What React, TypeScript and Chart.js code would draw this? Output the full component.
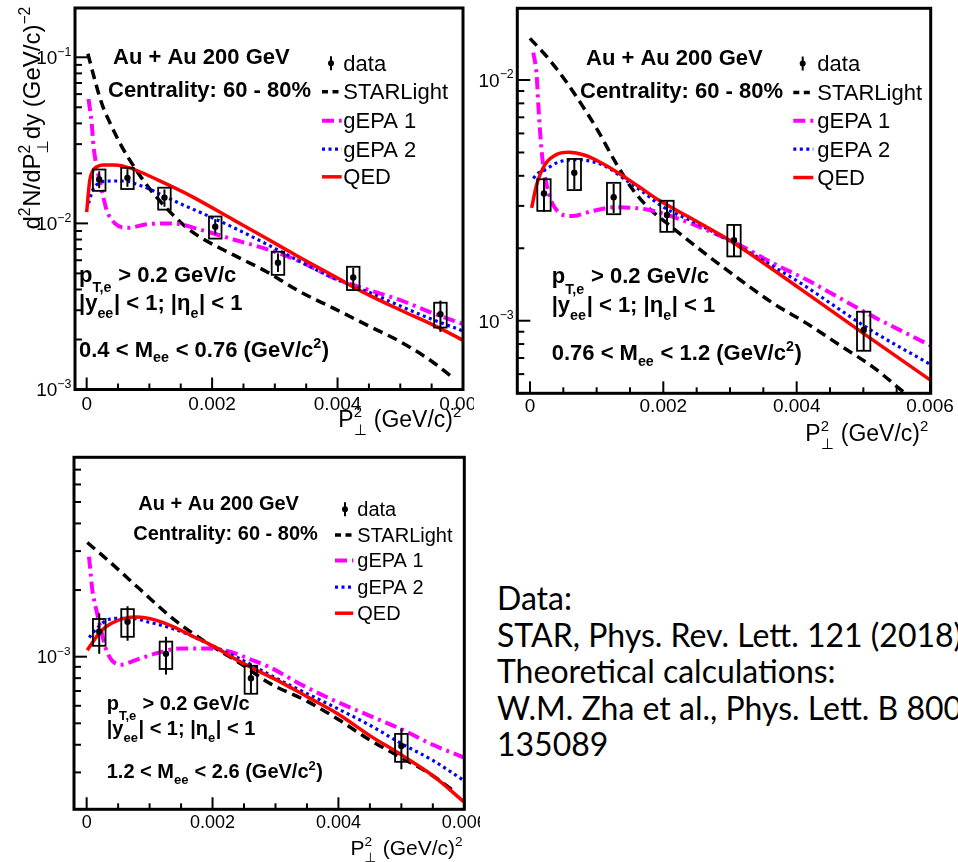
import React, { useEffect, useRef } from "react";
import { Chart, registerables } from "chart.js";
Chart.register(...registerables);

// ===================== DATA =====================
// Panel 1: 0.4 < Mee < 0.76
const p1StarX = [0.00002, 0.00013, 0.00024, 0.0004, 0.00056, 0.00077, 0.00098, 0.00125, 0.00157, 0.0018, 0.00234, 0.00287, 0.0034, 0.00394, 0.00447, 0.005, 0.0055, 0.00585];
const p1StarY = [0.105, 0.073, 0.0528, 0.0382, 0.029, 0.0215, 0.0166, 0.0126, 0.0096, 0.0083, 0.00646, 0.00512, 0.00388, 0.00308, 0.00244, 0.00194, 0.00148, 0.00117];
const p1Gepa1X = [0.00003, 0.00008, 0.00011, 0.00016, 0.00024, 0.00032, 0.00045, 0.00066, 0.00098, 0.00136, 0.0018, 0.00234, 0.00287, 0.0034, 0.00394, 0.00447, 0.005, 0.00553, 0.006];
const p1Gepa1Y = [0.056, 0.04, 0.029, 0.0219, 0.0159, 0.012, 0.01, 0.0094, 0.0099, 0.01, 0.0092, 0.008, 0.007, 0.0059, 0.0047, 0.004, 0.00345, 0.00287, 0.00248];
const p1Gepa2X = [0.00003, 0.0001, 0.0002, 0.0004, 0.0006, 0.0008, 0.001, 0.0012, 0.0015, 0.0018, 0.0023, 0.0029, 0.0034, 0.0039, 0.0045, 0.005, 0.0055, 0.006];
const p1Gepa2Y = [0.0132, 0.016, 0.0175, 0.018, 0.018, 0.0172, 0.0161, 0.0148, 0.0131, 0.0117, 0.0096, 0.0074, 0.0059, 0.00475, 0.00385, 0.00318, 0.00265, 0.00225];
const p1QedX = [0, 0.00005, 0.0001, 0.00015, 0.00025, 0.00045, 0.0007, 0.00114, 0.00168, 0.00234, 0.00287, 0.0034, 0.00394, 0.00447, 0.005, 0.00553, 0.006];
const p1QedY = [0.0117, 0.0182, 0.0208, 0.0218, 0.0225, 0.0225, 0.0215, 0.0182, 0.0145, 0.0105, 0.0081, 0.00624, 0.00482, 0.00375, 0.00301, 0.00244, 0.00198];
const p1DataX = [0.0002, 0.00065, 0.00124, 0.00205, 0.00305, 0.00425, 0.00564];
const p1DataY = [0.0184, 0.0188, 0.0143, 0.00955, 0.0058, 0.00473, 0.00284];
const p1SysLo = [0.0157, 0.0161, 0.0121, 0.0081, 0.0049, 0.00397, 0.00236];
const p1SysHi = [0.0211, 0.0216, 0.0164, 0.011, 0.00675, 0.00548, 0.00333];
const p1StatLo = [0.0163, 0.0166, 0.0126, 0.0086, 0.0051, 0.004, 0.00222];
const p1StatHi = [0.0206, 0.0212, 0.016, 0.0106, 0.0066, 0.0054, 0.00343];

// Panel 2: 0.76 < Mee < 1.2
const p2StarX = [0, 0.000275, 0.000525, 0.000775, 0.001025, 0.001275, 0.001525, 0.00175, 0.00215, 0.00265, 0.00315, 0.00365, 0.00415, 0.00465, 0.00515, 0.00555, 0.006];
const p2StarY = [0.0149, 0.0123, 0.01, 0.0079, 0.00612, 0.00459, 0.00356, 0.003, 0.00242, 0.00188, 0.00148, 0.00118, 0.000975, 0.00079, 0.00064, 0.00052, 0.00041];
const p2Gepa1X = [0.00005, 0.0001, 0.000125, 0.000175, 0.00025, 0.000375, 0.000625, 0.000925, 0.00128, 0.00175, 0.00215, 0.00265, 0.00315, 0.00365, 0.00415, 0.00465, 0.00515, 0.00585, 0.006];
const p2Gepa1Y = [0.013, 0.0105, 0.0079, 0.00506, 0.00367, 0.00294, 0.00272, 0.00285, 0.00296, 0.0029, 0.0027, 0.00238, 0.00206, 0.00173, 0.00148, 0.00124, 0.00104, 0.00083, 0.00079];
const p2Gepa2X = [0.00005, 0.00012, 0.00023, 0.00043, 0.00068, 0.00093, 0.00118, 0.00143, 0.00168, 0.00198, 0.00255, 0.00305, 0.00365, 0.00415, 0.00465, 0.00515, 0.006];
const p2Gepa2Y = [0.0039, 0.0041, 0.00425, 0.00456, 0.00467, 0.00459, 0.00431, 0.00385, 0.00345, 0.00299, 0.0025, 0.0021, 0.00168, 0.00138, 0.00111, 0.0009, 0.00066];
const p2QedX = [0.000025, 0.0001, 0.000225, 0.000425, 0.000575, 0.000825, 0.001075, 0.001325, 0.001625, 0.001925, 0.00255, 0.00305, 0.00405, 0.005, 0.006];
const p2QedY = [0.00294, 0.00367, 0.00445, 0.00494, 0.00501, 0.00487, 0.00452, 0.00411, 0.00362, 0.00318, 0.00254, 0.00211, 0.00136, 0.000886, 0.000568];
const p2DataX = [0.00021, 0.000665, 0.001255, 0.002055, 0.00306, 0.005005];
const p2DataY = [0.00338, 0.00412, 0.00326, 0.00275, 0.00216, 0.000915];
const p2SysLo = [0.00286, 0.00349, 0.00277, 0.00234, 0.00185, 0.00075];
const p2SysHi = [0.00387, 0.0047, 0.00374, 0.00315, 0.0025, 0.00109];
const p2StatLo = [0.00283, 0.00352, 0.0028, 0.00236, 0.00185, 0.00075];
const p2StatHi = [0.0039, 0.00468, 0.0037, 0.00317, 0.0025, 0.00109];

// Panel 3: 1.2 < Mee < 2.6
const p3StarX = [0.00001, 0.00033, 0.00086, 0.00139, 0.00192, 0.00245, 0.0029, 0.0035, 0.004, 0.0045, 0.005, 0.0055, 0.00585];
const p3StarY = [0.00328, 0.00274, 0.002, 0.00147, 0.00115, 0.00093, 0.00076, 0.00063, 0.00052, 0.00042, 0.00035, 0.00029, 0.000245];
const p3Gepa1X = [0.000037, 0.000064, 0.00009, 0.000143, 0.00022, 0.00033, 0.00054, 0.0008, 0.00113, 0.0015, 0.00192, 0.00229, 0.00261, 0.00293, 0.0034, 0.0039, 0.0045, 0.005, 0.0055, 0.006];
const p3Gepa1Y = [0.00283, 0.00238, 0.002, 0.00168, 0.00135, 0.00104, 0.00092, 0.00097, 0.00104, 0.00109, 0.00109, 0.00105, 0.00097, 0.00089, 0.00075, 0.00064, 0.00054, 0.00047, 0.0004, 0.00035];
const p3Gepa2X = [0.00004, 0.00015, 0.0003, 0.00045, 0.0007, 0.001, 0.0014, 0.0017, 0.002, 0.0024, 0.0028, 0.0032, 0.0036, 0.004, 0.0045, 0.005, 0.0055, 0.006];
const p3Gepa2Y = [0.00122, 0.00133, 0.00145, 0.00149, 0.00149, 0.00143, 0.00133, 0.00123, 0.00112, 0.00099, 0.00086, 0.00075, 0.00066, 0.00058, 0.00049, 0.000405, 0.00034, 0.000275];
const p3QedX = [0.00001, 0.00012, 0.00022, 0.00038, 0.0006, 0.0008, 0.00107, 0.00139, 0.0017, 0.00203, 0.00235, 0.00266, 0.003, 0.0035, 0.004, 0.0045, 0.005, 0.0055, 0.006];
const p3QedY = [0.00107, 0.00119, 0.0013, 0.00141, 0.00149, 0.00151, 0.00147, 0.00136, 0.00123, 0.00111, 0.00098, 0.00088, 0.00079, 0.00066, 0.00055, 0.00044, 0.00036, 0.00029, 0.00022];
const p3DataX = [0.0002, 0.00065, 0.00126, 0.00261, 0.005];
const p3DataY = [0.0013, 0.00144, 0.00103, 0.0008, 0.000395];
const p3SysLo = [0.00112, 0.00123, 0.00088, 0.00068, 0.000335];
const p3SysHi = [0.00148, 0.00164, 0.00117, 0.00091, 0.000448];
const p3StatLo = [0.00103, 0.00118, 0.00083, 0.00068, 0.00031];
const p3StatHi = [0.00157, 0.00169, 0.00123, 0.00093, 0.000475];

const SYS_HALF_WIDTH = 0.0001;

// Axis ticks
const X_TICKS = [0, 0.002, 0.004, 0.006];
const X_TICK_LABELS = ["0", "0.002", "0.004", "0.006"];
const X_MINOR_STEP = 0.0005;
const P1_Y_LABEL_DECADES = [-3, -2, -1];
const P2_Y_LABEL_DECADES = [-3, -2];
const P3_Y_LABEL_DECADES = [-3];

// Texts
const LEGEND_LABELS = ["data", "STARLight", "gEPA 1", "gEPA 2", "QED"];
const COLLISION = "Au + Au 200 GeV";
const CENTRALITY = "Centrality: 60 - 80%";
const MASS_RANGES = [["0.4", "0.76"], ["0.76", "1.2"], ["1.2", "2.6"]];
const CITATION = [
  "Data:",
  "STAR, Phys. Rev. Lett. 121 (2018)",
  "Theoretical calculations:",
  "W.M. Zha et al., Phys. Lett. B 800 (2020)",
  "135089",
];

// ===================== STYLE =====================
const FAM = '"Liberation Sans", Arial, Helvetica, "DejaVu Sans", sans-serif';
const fnt = (size: number, bold: boolean) => `${bold ? "bold " : ""}${size}px ${FAM}`;
const SUBSCALE = 0.65;

const STYLES = {
  star: { color: "#000000", width: 3.5, dash: [10, 6], legDash: [6, 4.5] },
  gepa1: { color: "#ff00ff", width: 4, dash: [12, 5, 3, 5], legDash: [12, 5, 3, 5] },
  gepa2: { color: "#0000ff", width: 3.2, dash: [3, 3.5], legDash: [3, 3.5] },
  qed: { color: "#ff0000", width: 3.5, dash: [] as number[], legDash: [] as number[] },
};

type Seg = { t: string; k?: "sup" | "sub" | "ss"; t2?: string; dy?: number };

function segW(ctx: CanvasRenderingContext2D, s: Seg, size: number, bold: boolean) {
  if (!s.k) {
    ctx.font = fnt(size, bold);
    return ctx.measureText(s.t).width;
  }
  ctx.font = fnt(size * SUBSCALE, bold);
  const w1 = ctx.measureText(s.t).width;
  const w2 = s.t2 ? ctx.measureText(s.t2).width : 0;
  return Math.max(w1, w2) + size * 0.03;
}

function drawRich(ctx: CanvasRenderingContext2D, segs: Seg[], x: number, y: number, size: number, bold: boolean, align: "left" | "right" | "center") {
  let total = 0;
  for (const s of segs) total += segW(ctx, s, size, bold);
  let cx = align === "right" ? x - total : align === "center" ? x - total / 2 : x;
  ctx.textAlign = "left";
  ctx.textBaseline = "alphabetic";
  ctx.fillStyle = "#000";
  for (const s of segs) {
    const w = segW(ctx, s, size, bold);
    if (!s.k) {
      ctx.font = fnt(size, bold);
      ctx.fillText(s.t, cx, y);
    } else {
      ctx.font = fnt(size * SUBSCALE, bold);
      if (s.k === "sup") ctx.fillText(s.t, cx, y - size * (s.dy ?? 0.42));
      else if (s.k === "sub") ctx.fillText(s.t, cx, y + size * (s.dy ?? 0.34));
      else {
        ctx.fillText(s.t, cx, y - size * 0.42);
        ctx.fillText(s.t2 || "", cx, y + size * 0.34);
      }
    }
    cx += w;
  }
}

// ===================== PANELS =====================
type PanelDef = {
  key: string;
  box: { left: number; top: number; w: number; h: number };
  area: { l: number; t: number; r: number; b: number };
  xMin: number; xMax: number; yMin: number; yMax: number;
  yLabelDecades: number[];
  curves: { star: number[][]; gepa1: number[][]; gepa2: number[][]; qed: number[][] };
  data: { x: number[]; y: number[]; sysLo: number[]; sysHi: number[]; statLo: number[]; statHi: number[] };
  mass: string[];
  fs: { ann: number; leg: number; tick: number; title: number };
  collision: number[]; centrality: number[];
  cutsX: number; cutsBase: number[];
  legend: { symL: number; symR: number; textX: number; markX: number; base: number[] };
  xTitle: number[]; xLabelBase: number;
  yTitle: number[] | null;
};

const PANELS: PanelDef[] = [
  {
    key: "p1",
    box: { left: 0, top: 0, w: 474, h: 450 },
    area: { l: 75, t: 8, r: 463, b: 389.5 },
    xMin: -0.000186, xMax: 0.006, yMin: 0.001, yMax: 0.198,
    yLabelDecades: P1_Y_LABEL_DECADES,
    curves: { star: [p1StarX, p1StarY], gepa1: [p1Gepa1X, p1Gepa1Y], gepa2: [p1Gepa2X, p1Gepa2Y], qed: [p1QedX, p1QedY] },
    data: { x: p1DataX, y: p1DataY, sysLo: p1SysLo, sysHi: p1SysHi, statLo: p1StatLo, statHi: p1StatHi },
    mass: MASS_RANGES[0],
    fs: { ann: 22, leg: 22, tick: 19, title: 23 },
    collision: [113, 64], centrality: [108, 96.7],
    cutsX: 79, cutsBase: [281.7, 310, 356.7],
    legend: { symL: 322, symR: 341.7, textX: 343.3, markX: 331, base: [70.7, 99.3, 128.3, 156.7, 184.3] },
    xTitle: [462, 427], xLabelBase: 410,
    yTitle: [40, 6],
  },
  {
    key: "p2",
    box: { left: 476, top: 0, w: 482, h: 450 },
    area: { l: 41.3, t: 8.3, r: 454.7, b: 393.3 },
    xMin: -0.00019, xMax: 0.00601, yMin: 0.0004994, yMax: 0.01986,
    yLabelDecades: P2_Y_LABEL_DECADES,
    curves: { star: [p2StarX, p2StarY], gepa1: [p2Gepa1X, p2Gepa1Y], gepa2: [p2Gepa2X, p2Gepa2Y], qed: [p2QedX, p2QedY] },
    data: { x: p2DataX, y: p2DataY, sysLo: p2SysLo, sysHi: p2SysHi, statLo: p2StatLo, statHi: p2StatHi },
    mass: MASS_RANGES[1],
    fs: { ann: 22, leg: 22, tick: 19, title: 23 },
    collision: [110, 65], centrality: [104, 98.3],
    cutsX: 75.7, cutsBase: [283.3, 311.7, 360],
    legend: { symL: 317.3, symR: 337.3, textX: 341.3, markX: 326.7, base: [71, 100, 128.3, 156.7, 185] },
    xTitle: [453, 441], xLabelBase: 411.7,
    yTitle: null,
  },
  {
    key: "p3",
    box: { left: 0, top: 450, w: 480, h: 412 },
    area: { l: 74, t: 7.3, r: 464.3, b: 359.3 },
    xMin: -0.000201, xMax: 0.006, yMin: 0.0002044, yMax: 0.00796,
    yLabelDecades: P3_Y_LABEL_DECADES,
    curves: { star: [p3StarX, p3StarY], gepa1: [p3Gepa1X, p3Gepa1Y], gepa2: [p3Gepa2X, p3Gepa2Y], qed: [p3QedX, p3QedY] },
    data: { x: p3DataX, y: p3DataY, sysLo: p3SysLo, sysHi: p3SysHi, statLo: p3StatLo, statHi: p3StatHi },
    mass: MASS_RANGES[2],
    fs: { ann: 20, leg: 20, tick: 18, title: 21 },
    collision: [138.3, 60], centrality: [133.3, 90],
    cutsX: 106.7, cutsBase: [260, 285, 328.3],
    legend: { symL: 335, symR: 353.3, textX: 357.3, markX: 345, base: [66, 91.7, 117.3, 144, 170] },
    xTitle: [463.3, 405], xLabelBase: 378.3,
    yTitle: null,
  },
];

function curveDs(label: string, xy: number[][], st: { color: string; width: number; dash: number[] }, order: number) {
  const [xs, ys] = xy;
  return {
    label,
    data: xs.map((x, i) => ({ x, y: ys[i] })),
    showLine: true,
    borderColor: st.color,
    backgroundColor: st.color,
    borderWidth: st.width,
    borderDash: st.dash,
    pointRadius: 0,
    pointHoverRadius: 0,
    cubicInterpolationMode: "monotone" as const,
    fill: false,
    clip: 0,
    order,
  };
}

function line(ctx: CanvasRenderingContext2D, x1: number, y1: number, x2: number, y2: number) {
  ctx.beginPath();
  ctx.moveTo(x1, y1);
  ctx.lineTo(x2, y2);
  ctx.stroke();
}

function makePlugin(p: PanelDef) {
  return {
    id: "rootStyle_" + p.key,
    afterDatasetsDraw(chart: any) {
      const ctx: CanvasRenderingContext2D = chart.ctx;
      const xs = chart.scales.x, ys = chart.scales.y;
      const d = p.data;
      ctx.save();
      ctx.strokeStyle = "#000";
      ctx.setLineDash([]);
      for (let i = 0; i < d.x.length; i++) {
        const xl = xs.getPixelForValue(d.x[i] - SYS_HALF_WIDTH);
        const xr = xs.getPixelForValue(d.x[i] + SYS_HALF_WIDTH);
        const yt = ys.getPixelForValue(d.sysHi[i]);
        const yb = ys.getPixelForValue(d.sysLo[i]);
        ctx.lineWidth = 1.8;
        ctx.strokeRect(xl, yt, xr - xl, yb - yt);
        const xc = xs.getPixelForValue(d.x[i]);
        ctx.lineWidth = 2;
        line(ctx, xc, ys.getPixelForValue(d.statHi[i]), xc, ys.getPixelForValue(d.statLo[i]));
      }
      ctx.restore();
    },
    afterDraw(chart: any) {
      const ctx: CanvasRenderingContext2D = chart.ctx;
      const { left, right, top, bottom } = chart.chartArea;
      const xs = chart.scales.x, ys = chart.scales.y;
      ctx.save();
      ctx.strokeStyle = "#000";
      ctx.setLineDash([]);
      ctx.lineWidth = 2;
      // x ticks
      const n = Math.round((X_TICKS[X_TICKS.length - 1] - X_TICKS[0]) / X_MINOR_STEP);
      for (let i = 0; i <= n; i++) {
        const v = X_TICKS[0] + i * X_MINOR_STEP;
        const major = X_TICKS.some((t) => Math.abs(t - v) < 1e-9);
        const px = xs.getPixelForValue(v);
        line(ctx, px, bottom, px, bottom - (major ? 12 : 6));
      }
      // y ticks
      const d0 = Math.floor(Math.log10(p.yMin)), d1 = Math.ceil(Math.log10(p.yMax));
      for (let dd = d0; dd <= d1; dd++) {
        for (let m = 1; m <= 9; m++) {
          const v = m * Math.pow(10, dd);
          if (v < p.yMin * 0.999 || v > p.yMax) continue;
          const py = ys.getPixelForValue(v);
          line(ctx, left, py, left + (m === 1 ? 13 : 7), py);
        }
      }
      // frame
      ctx.lineWidth = 3;
      ctx.strokeRect(left, top, right - left, bottom - top);

      // tick labels
      X_TICKS.forEach((v, i) => {
        drawRich(ctx, [{ t: X_TICK_LABELS[i] }], xs.getPixelForValue(v), p.xLabelBase, p.fs.tick, false, "center");
      });
      p.yLabelDecades.forEach((dd) => {
        const py = ys.getPixelForValue(Math.pow(10, dd));
        drawRich(ctx, [{ t: "10" }, { t: "\u2212" + Math.abs(dd), k: "sup", dy: 0.45 }], left - 3, py + p.fs.tick * 0.36, p.fs.tick, false, "right");
      });

      // axis titles
      drawRich(ctx, [{ t: "P" }, { t: "2", t2: "\u22A5", k: "ss" }, { t: " (GeV/c)" }, { t: "2", k: "sup" }], p.xTitle[0], p.xTitle[1], p.fs.title, false, "right");
      if (p.yTitle) {
        ctx.save();
        ctx.translate(p.yTitle[0], p.yTitle[1]);
        ctx.rotate(-Math.PI / 2);
        drawRich(ctx, [{ t: "d" }, { t: "2", k: "sup" }, { t: "N/dP" }, { t: "2", t2: "\u22A5", k: "ss" }, { t: "dy (GeV/c)" }, { t: "\u22122", k: "sup" }], 0, 0, 24, false, "right");
        ctx.restore();
      }

      // annotations
      const A = p.fs.ann;
      drawRich(ctx, [{ t: COLLISION }], p.collision[0], p.collision[1], A, true, "left");
      drawRich(ctx, [{ t: CENTRALITY }], p.centrality[0], p.centrality[1], A, true, "left");
      drawRich(ctx, [{ t: "p" }, { t: "T,e", k: "sub", dy: 0.48 }, { t: " > 0.2 GeV/c" }], p.cutsX, p.cutsBase[0], A, true, "left");
      drawRich(ctx, [{ t: "|y" }, { t: "ee", k: "sub", dy: 0.36 }, { t: "| < 1; |\u03B7" }, { t: "e", k: "sub", dy: 0.36 }, { t: "| < 1" }], p.cutsX, p.cutsBase[1], A, true, "left");
      drawRich(ctx, [{ t: p.mass[0] + " < M" }, { t: "ee", k: "sub", dy: 0.26 }, { t: " < " + p.mass[1] + " (GeV/c" }, { t: "2", k: "sup", dy: 0.4 }, { t: ")" }], p.cutsX, p.cutsBase[2], A, true, "left");

      // legend
      const L = p.legend;
      const keys: ("star" | "gepa1" | "gepa2" | "qed")[] = ["star", "gepa1", "gepa2", "qed"];
      LEGEND_LABELS.forEach((lab, i) => {
        const b = L.base[i];
        drawRich(ctx, [{ t: lab }], L.textX, b, p.fs.leg, false, "left");
        const yc = b - p.fs.leg * 0.34;
        if (i === 0) {
          ctx.setLineDash([]);
          ctx.lineWidth = 2;
          ctx.strokeStyle = "#000";
          line(ctx, L.markX, yc - 7, L.markX, yc + 7);
          ctx.fillStyle = "#000";
          ctx.beginPath();
          ctx.arc(L.markX, yc, 3, 0, Math.PI * 2);
          ctx.fill();
        } else {
          const st = STYLES[keys[i - 1]];
          ctx.strokeStyle = st.color;
          ctx.lineWidth = st.width;
          ctx.setLineDash(st.legDash);
          line(ctx, L.symL, yc, L.symR, yc);
          ctx.setLineDash([]);
        }
      });
      ctx.restore();
    },
  };
}

function buildConfig(p: PanelDef): any {
  const d = p.data;
  return {
    type: "scatter",
    data: {
      datasets: [
        {
          label: "data",
          data: d.x.map((x, i) => ({ x, y: d.y[i] })),
          showLine: false,
          pointRadius: 3.2,
          pointHoverRadius: 3.2,
          pointBackgroundColor: "#000",
          pointBorderWidth: 0,
          borderColor: "#000",
          order: 0,
        },
        curveDs("QED", p.curves.qed, STYLES.qed, 1),
        curveDs("gEPA 2", p.curves.gepa2, STYLES.gepa2, 2),
        curveDs("gEPA 1", p.curves.gepa1, STYLES.gepa1, 3),
        curveDs("STARLight", p.curves.star, STYLES.star, 4),
      ],
    },
    options: {
      responsive: false,
      maintainAspectRatio: false,
      animation: false,
      events: [],
      layout: {
        padding: {
          left: p.area.l,
          top: p.area.t,
          right: p.box.w - p.area.r,
          bottom: p.box.h - p.area.b,
        },
      },
      scales: {
        x: { type: "linear", min: p.xMin, max: p.xMax, display: false },
        y: { type: "logarithmic", min: p.yMin, max: p.yMax, display: false },
      },
      plugins: { legend: { display: false }, tooltip: { enabled: false } },
    },
    plugins: [makePlugin(p)],
  };
}

function Panel({ def }: { def: PanelDef }) {
  const ref = useRef<HTMLCanvasElement>(null);
  useEffect(() => {
    if (!ref.current) return;
    const chart = new Chart(ref.current, buildConfig(def));
    return () => chart.destroy();
  }, [def]);
  return (
    <canvas
      ref={ref}
      width={def.box.w}
      height={def.box.h}
      style={{ position: "absolute", left: def.box.left, top: def.box.top, width: def.box.w, height: def.box.h }}
    />
  );
}

export default function App() {
  return (
    <div style={{ position: "absolute", left: 0, top: 0, width: 958, height: 862, overflow: "hidden", background: "#fff" }}>
      {PANELS.map((p) => (
        <Panel key={p.key} def={p} />
      ))}
      <div
        style={{
          position: "absolute",
          left: 497,
          top: 580,
          fontFamily: 'Lato, "Open Sans", "Noto Sans", sans-serif',
          fontSize: 32,
          lineHeight: "36.5px",
          whiteSpace: "pre",
          color: "#000",
        }}
      >
        {CITATION.map((l) => (
          <div key={l}>{l}</div>
        ))}
      </div>
    </div>
  );
}
